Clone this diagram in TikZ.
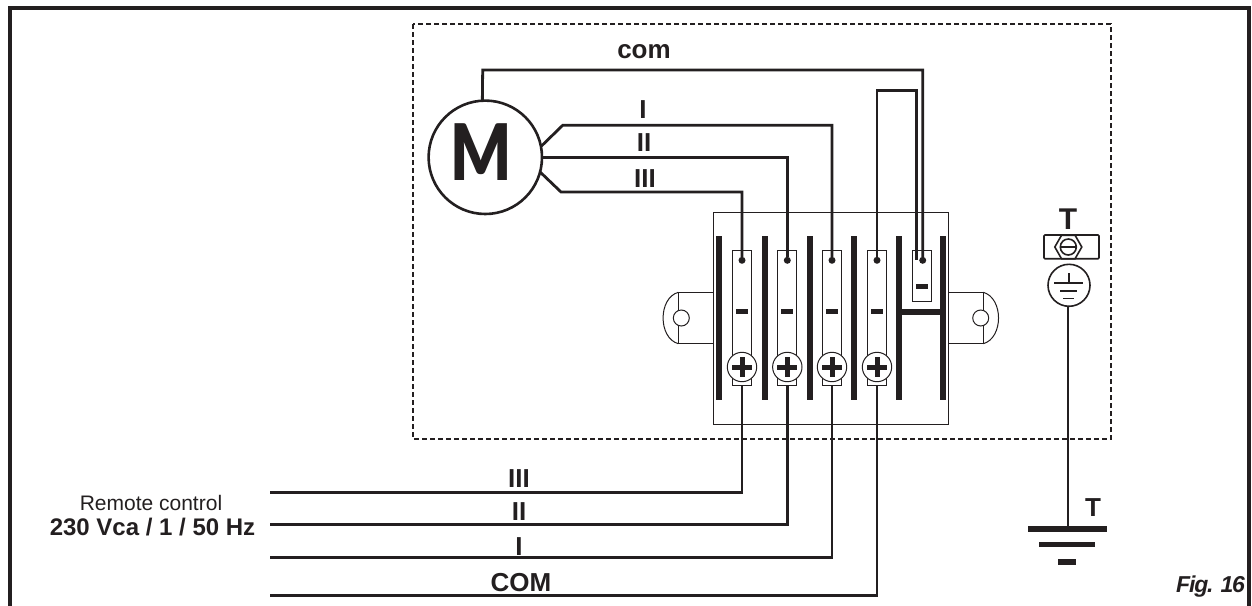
\documentclass[tikz,border=0pt]{standalone}
\usepackage{fontspec}
\setmainfont{Liberation Sans}
\newfontfamily\motorfont{Lato Black}
\definecolor{ink}{HTML}{231F20}
\tikzset{x=1pt, y=-1pt, every path/.style={ink, line width=1pt},
  every node/.style={inner sep=0pt, outer sep=0pt},
  wire/.style={line width=2.8pt, line join=miter},
  bar/.style={fill=ink, draw=none, minimum width=6pt, minimum height=164pt},
  strip/.style={draw, fill=white, minimum width=19.3pt},
  minus/.style={fill=ink, draw=none, minimum width=12pt, minimum height=5pt},
  dot/.style={circle, fill=ink, draw=none, minimum size=7pt},
  screw/.style={circle, draw, fill=white, minimum size=29.4pt, path picture={
    \draw[line width=5pt] (path picture bounding box.center) +(-10,0) -- +(10,0);
    \draw[line width=5pt] (path picture bounding box.center) +(0,-10) -- +(0,10);}},
  hole/.style={circle, draw, fill=white, minimum size=16pt},
  earth/.style={fill=ink, draw=none, minimum height=5.5pt},
  lbl/.style={font=\fontsize{26}{28}\bfseries\selectfont}}

\begin{document}
\begin{tikzpicture}
  \useasboundingbox (0,0) rectangle (1252,605);
  % frame and enclosure
  \draw[line width=4pt] (9.5,610) -- (9.5,8) -- (1249,8) -- (1249,610);
  \draw[line width=1.1pt, dash pattern=on 5pt off 3pt] (413,24) rectangle (1111,439);

  % terminal block
  \draw[fill=white] (713.7,212.3) rectangle (948,424.3);
  \draw (713.7,292.3) -- (678.3,292.3) -- (678.3,343.7) -- (713.7,343.7);
  \draw (678.3,292.3) .. controls (658,298) and (658,338) .. (678.3,343.7);
  \draw (948,292.3) -- (983.3,292.3) -- (983.3,343.7) -- (948,343.7);
  \draw (983.3,292.3) .. controls (1003.6,298) and (1003.6,338) .. (983.3,343.7);
  \node[hole] (h1) at (681.3,318) {};
  \node[hole] (h2) at (980.7,318) {};
  \node[bar] (b1) at (719,317.8) {};
  \node[bar] (b2) at (764.7,317.8) {};
  \node[bar] (b3) at (809.7,317.8) {};
  \node[bar] (b4) at (854,317.8) {};
  \node[bar] (b5) at (899,317.8) {};
  \node[bar] (b6) at (943,317.8) {};
  \node[fill=ink, minimum width=44pt, minimum height=6pt] (b7) at (921,312.3) {};

  \node[strip, minimum height=134.7pt] (t1) at (742,318.3) {};
  \node[strip, minimum height=134.7pt] (t2) at (787.3,318.3) {};
  \node[strip, minimum height=134.7pt] (t3) at (832,318.3) {};
  \node[strip, minimum height=134.7pt] (t4) at (877,318.3) {};
  \node[strip, minimum height=50.7pt] (t5) at (922,276.3) {};
  \node[minus] (n1) at (742,311.7) {};
  \node[minus] (n2) at (787.3,311.7) {};
  \node[minus] (n3) at (832,311.7) {};
  \node[minus] (n4) at (877,311.7) {};
  \node[minus] (n5) at (922,286.7) {};
  \node[screw] (s1) at (742,367) {};
  \node[screw] (s2) at (787.3,367) {};
  \node[screw] (s3) at (832,367) {};
  \node[screw] (s4) at (877,367) {};
  \node[dot] (d1) at (742,260.3) {};
  \node[dot] (d2) at (787.3,260.3) {};
  \node[dot] (d3) at (832,260.3) {};
  \node[dot] (d4) at (877,260.3) {};
  \node[dot] (d5) at (922.7,260.3) {};

  % motor
  \node[circle, draw, line width=2.6pt, minimum size=113.4pt, fill=white] (m) at (485.3,157.3) {};
  \node[font=\fontsize{78}{80}\motorfont\selectfont, xscale=0.82] (mm) at (481,152) {M};
  \coordinate (k1) at (562.7,125.3);
  \coordinate (k3) at (561,192);
  \coordinate (j1) at (482.7,70);
  \coordinate (j2) at (916.7,90.7);
  \draw[wire] (m.93) -- (j1) -| (d5);
  \draw[wire] (m.11) -- (k1) -| (d3);
  \draw[wire] (m.0) -| (d2);
  \draw[wire] (m.-15) -- (k3) -| (d1);
  \draw[wire] (d4) |- (j2) -- (916.7,260.3);

  % remote control side
  \coordinate (e1) at (270,492.5);
  \coordinate (e2) at (270,524.7);
  \coordinate (e3) at (270,557.7);
  \coordinate (e4) at (270,595.7);
  \draw[wire] (e1) -| (t1.south);
  \draw[wire] (e2) -| (t2.south);
  \draw[wire] (e3) -| (t3.south);
  \draw[wire] (e4) -| (t4.south);

  % earth
  \draw[line width=1.6pt, rounded corners=1pt] (1044,235) rectangle (1099,258.7);
  \draw[line width=1.6pt, fill=white] (1054.8,247) -- (1061.5,235.3) -- (1075.1,235.3)
    -- (1081.8,247) -- (1075.1,258.7) -- (1061.5,258.7) -- cycle;
  \node[circle, draw, line width=1.6pt, minimum size=16pt] (c) at (1068.3,247) {};
  \draw[line width=1.6pt] (c.west) -- (c.east);
  \node[circle, draw, line width=1.6pt, minimum size=42pt] (p) at (1069,285.3) {};
  \draw[line width=1.6pt] (1069,273) -- (1069,282.7);
  \draw[line width=1.6pt] (1054.3,282.7) -- (1083.3,282.7);
  \draw[line width=1.6pt] (1060,290.7) -- (1077,290.7);
  \draw[line width=1.6pt] (1063,298.3) -- (1074,298.3);
  \node[earth, minimum width=79.6pt] (g1) at (1067.5,529) {};
  \node[earth, minimum width=55.7pt] (g2) at (1067,544.7) {};
  \node[earth, minimum width=18.5pt] (g3) at (1067.2,562) {};
  \draw[line width=2pt] (p.south -| g1) -- (g1);

  % labels
  \node[lbl] (l1) at (644,52) {com};
  \node[lbl] (l2) at (643,110) {I};
  \node[lbl] (l3) at (644,143) {II};
  \node[lbl] (l4) at (645,179) {III};
  \node[lbl] (l5) at (519,479) {III};
  \node[lbl] (l6) at (519,512) {II};
  \node[lbl] (l7) at (519,547) {I};
  \node[lbl] (l8) at (521,583) {COM};
  \node[font=\fontsize{30}{32}\bfseries\selectfont] (l9) at (1068,219) {T};
  \node[font=\fontsize{26}{28}\bfseries\selectfont] (l10) at (1093,508) {T};
  \node[font=\fontsize{21}{23}\selectfont] (l11) at (151,503) {Remote control};
  \node[font=\fontsize{24}{27}\bfseries\selectfont] (l12) at (152.5,527) {230 Vca / 1 / 50 Hz};
  \node[font=\fontsize{23}{25}\selectfont\bfseries\itshape\addfontfeature{LetterSpace=-5}] (l13) at (1210.5,587) {Fig. 16};
\end{tikzpicture}
\end{document}
